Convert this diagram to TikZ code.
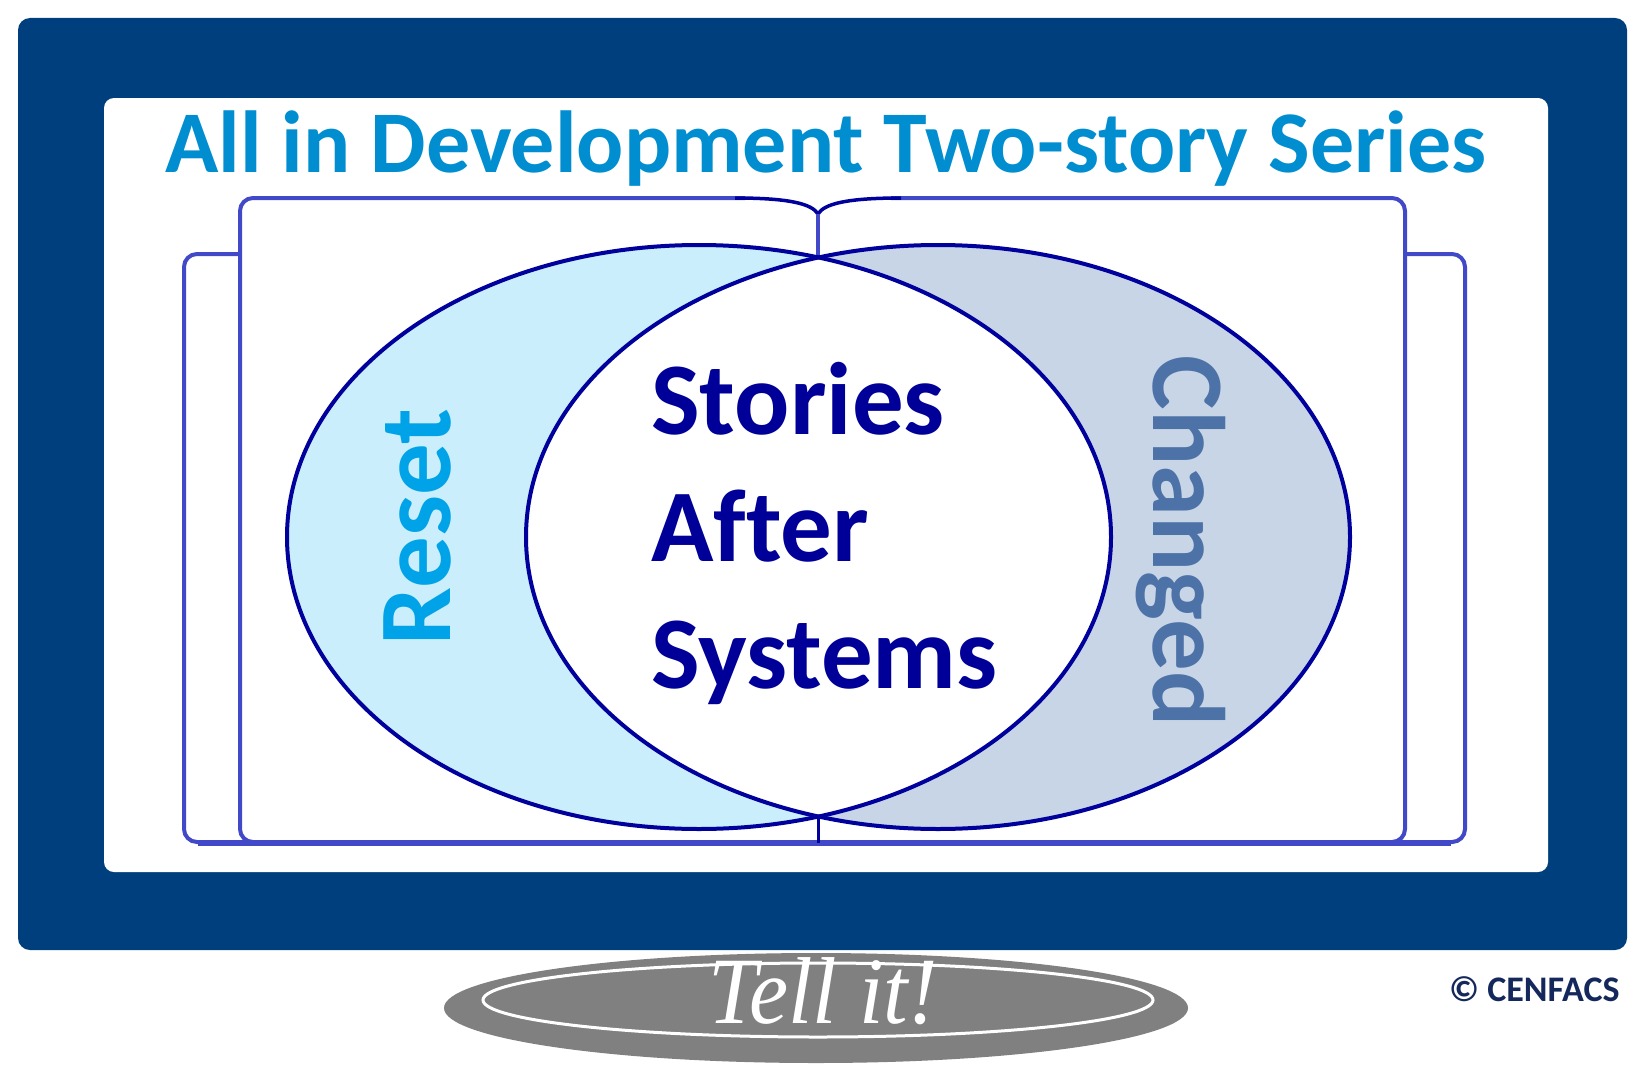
\documentclass[tikz,border=0pt]{standalone}
\usepackage{fontspec}
\setmainfont{Carlito}[Ligatures={NoCommon}]
\newfontfamily\tellfont{Liberation Serif}
\definecolor{frameblue}{HTML}{003F7E}
\definecolor{titleblue}{HTML}{008ED0}
\definecolor{resetblue}{HTML}{00A3E8}
\definecolor{changedblue}{HTML}{4D72A8}
\definecolor{navy}{HTML}{000099}
\definecolor{bookblue}{HTML}{4249C9}
\definecolor{ringblue}{HTML}{00009C}
\definecolor{leftfill}{HTML}{CAEEFC}
\definecolor{rightfill}{HTML}{C8D5E6}
\definecolor{copyblue}{HTML}{14285C}
\definecolor{tellgray}{HTML}{808080}
\tikzset{
  bookline/.style={draw=bookblue, line width=4pt},
  ringline/.style={draw=ringblue, line width=4pt},
  bigtext/.style={inner sep=0pt, font=\fontsize{103}{120}\selectfont\bfseries},
}
\begin{document}
\begin{tikzpicture}[x=1pt,y=-1pt]
\useasboundingbox (0,0) rectangle (1651,1081);
% frames
\fill[frameblue, rounded corners=12pt] (18,18) rectangle (1627,950);
\fill[white, rounded corners=10pt] (104,98) rectangle (1548,872);
% title
\node[anchor=base, inner sep=0pt, text=titleblue, font=\fontsize{88}{100}\selectfont\bfseries] (title) at (826,172) {All in Development Two-story Series};
% book
\draw[bookline, rounded corners=13pt] (240,254) -- (184,254) -- (184,842) -- (1465,842) -- (1465,254) -- (1405,254);
\draw[bookline, rounded corners=13pt] (745,198) -- (240,198) -- (240,842) -- (1405,842) -- (1405,198) -- (891,198);
\draw[draw=bookblue, line width=5.5pt] (198,843) -- (1451,843);
\draw[ringline, line width=3.5pt] (735,198) .. controls (790,198) and (812,204) .. (818,214) .. controls (824,204) and (846,198) .. (901,198);
\draw[bookline, line width=3.5pt] (818,214) -- (818,258);
\draw[draw=ringblue, line width=3pt] (818,815) -- (818,843);
% ellipses
\fill[leftfill] (699,537) ellipse [x radius=412pt, y radius=292pt];
\fill[rightfill] (938,537) ellipse [x radius=412pt, y radius=292pt];
\begin{scope}
  \clip (699,537) ellipse [x radius=412pt, y radius=292pt];
  \fill[white] (938,537) ellipse [x radius=412pt, y radius=292pt];
\end{scope}
\draw[ringline] (699,537) ellipse [x radius=412pt, y radius=292pt];
\draw[ringline] (938,537) ellipse [x radius=412pt, y radius=292pt];
% texts
\node[bigtext, text=resetblue, rotate=90, anchor=base] (reset) at (450,527) {Reset};
\node[bigtext, text=changedblue, rotate=-90, anchor=base] (changed) at (1153,541) {Changed};
\node[bigtext, text=navy, anchor=base west] (stories) at (651,434) {Stories};
\node[bigtext, text=navy, anchor=base west] (after) at (651,561) {After};
\node[bigtext, text=navy, anchor=base west] (systems) at (651,688) {Systems};
% tell it
\fill[tellgray] (816,1008) ellipse [x radius=372pt, y radius=55pt];
\draw[white, line width=3pt] (818,1000) ellipse [x radius=335pt, y radius=37pt];
\node[anchor=base, inner sep=0pt, text=white, yscale=1.08, font=\tellfont\itshape\fontsize{88}{100}\selectfont] (tell) at (823,1023) {Tell it!};
% copyright
\node[anchor=base west, inner sep=0pt, text=copyblue, font=\fontsize{36}{44}\selectfont\bfseries] (copy) at (1449,1001) {© CENFACS};
\end{tikzpicture}
\end{document}
